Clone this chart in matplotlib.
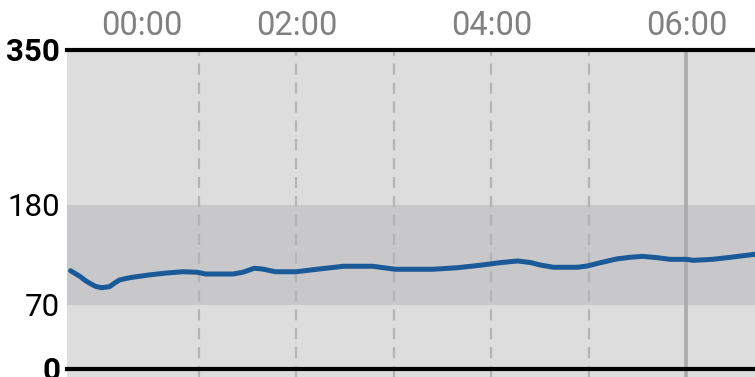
import matplotlib
matplotlib.use("Agg")
import matplotlib.pyplot as plt

# minutes relative to 00:00 and glucose values (mg/dL)
minutes = [-19, -13, -9.5, -6, -3.4, 0, 5, 7.7, 11, 15.1, 19, 29, 40, 50, 59, 64, 81, 87, 94,
           99, 107, 120, 134, 149, 167, 176, 181, 204, 219, 233, 245, 256, 264, 270, 278,
           293, 299, 307, 317, 325, 333, 342, 350, 360, 364, 376, 387, 395, 402]
glucose = [107.6, 101.1, 96.3, 92.7, 90.3, 89.0, 90.1, 93.6, 97.4, 99.1, 100.4, 102.9, 105.1,
           106.5, 105.9, 104.0, 104.0, 105.9, 110.3, 109.5, 106.5, 106.5, 109.5, 112.5,
           112.5, 110.3, 109.2, 109.2, 110.9, 113.6, 116.4, 118.3, 116.6, 113.9, 111.4,
           111.4, 112.8, 116.4, 120.5, 122.3, 123.4, 121.9, 120.1, 120.1, 119.0, 120.1,
           122.3, 124.1, 125.6]

target_low, target_high = 70, 180
y_ticks = [0, 70, 180, 350]
y_bold = [True, False, False, True]
time_ticks = [0, 120, 240, 360]
time_labels = ["00:00", "02:00", "04:00", "06:00"]
hour_lines = [60, 120, 180, 240, 300]
now_line = 360

W, H = 755, 377
fig = plt.figure(figsize=(W / 100, H / 100), dpi=100)
top_px = 49.8
ax = fig.add_axes([67 / W, 0, 1 - 67 / W, (H - top_px) / H])
ax.set_xlim(-21.2, 402.2)
ax.set_ylim(-9.0, 350)
ax.set_facecolor("#dddddd")
for s in ax.spines.values():
    s.set_visible(False)
ax.set_xticks([])
ax.set_yticks([])

ax.axhspan(target_low, target_high, color="#c8c8ca", lw=0, zorder=1)
for m in hour_lines:
    ax.axvline(m, color="#b4b4b4", lw=1.6, dashes=(5, 3.5), zorder=2)
ax.axvline(now_line, color="#aaaaaa", lw=2.6, zorder=2)

ax.plot(minutes, glucose, color="#1a5a99", lw=3.6, solid_capstyle="round",
        solid_joinstyle="round", zorder=4)

ax.axhline(350, color="black", lw=3.0, zorder=5, clip_on=False)
ax.axhline(0, color="black", lw=3.0, zorder=5, clip_on=False)

font = ["Roboto", "DejaVu Sans"]
for v, b in zip(y_ticks, y_bold):
    ax.annotate(str(v), xy=(0, v), xycoords=("axes fraction", "data"),
                xytext=(-5, -8.0), textcoords="offset points",
                ha="right", va="baseline", fontsize=22.5,
                fontweight="bold" if b else "normal", family=font, color="black",
                annotation_clip=False)

for m, lbl in zip(time_ticks, time_labels):
    ha = "left" if m == 0 else "center"
    ax.annotate(lbl, xy=(m, 1), xycoords=("data", "axes fraction"),
                xytext=(0, 10.7), textcoords="offset points",
                ha=ha, va="baseline", fontsize=23.5, family=font, color="#808080",
                annotation_clip=False)

fig.savefig("out.png", dpi=100, facecolor="white")
